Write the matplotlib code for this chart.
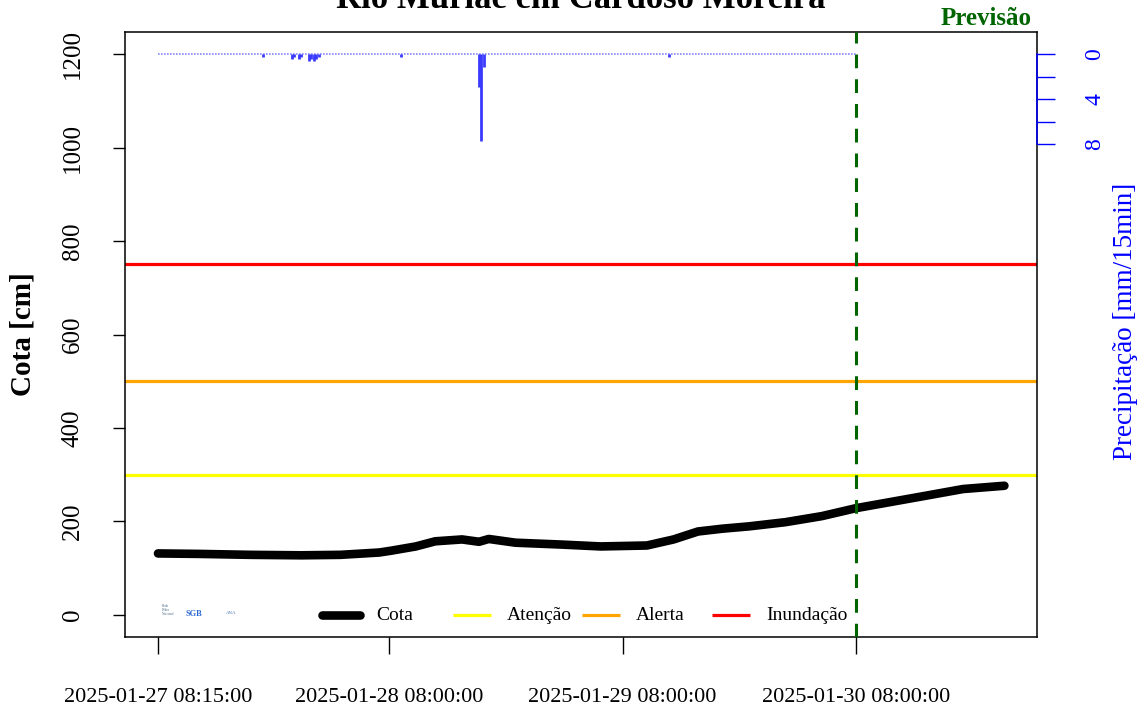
import matplotlib
matplotlib.use("Agg")
import matplotlib.pyplot as plt
import matplotlib.dates as mdates
import pandas as pd
import numpy as np

plt.rcParams['font.family'] = ['Liberation Serif', 'DejaVu Serif']

# ---------------- data ----------------
title = "Rio Muriaé em Cardoso Moreira"

cota_times = ["2025-01-27 08:15", "2025-01-27 12:30", "2025-01-27 17:45", "2025-01-27 23:00",
              "2025-01-28 03:00", "2025-01-28 07:00", "2025-01-28 08:15", "2025-01-28 10:45",
              "2025-01-28 12:45", "2025-01-28 15:30", "2025-01-28 17:15", "2025-01-28 18:15",
              "2025-01-28 21:00", "2025-01-29 01:45", "2025-01-29 05:45", "2025-01-29 10:30",
              "2025-01-29 13:15", "2025-01-29 15:45", "2025-01-29 18:15", "2025-01-29 21:00",
              "2025-01-30 00:45", "2025-01-30 04:30", "2025-01-30 08:00", "2025-01-30 15:00",
              "2025-01-30 19:00", "2025-01-30 23:15"]
cota_values = [131, 130, 128, 127, 128, 133, 137, 146, 157, 161, 156, 162, 154, 150, 146, 148,
               161, 178, 184, 189, 198, 211, 228, 254, 269, 276]

# precipitation (mm/15min): observation window and the non-zero records
precip_start = "2025-01-27 08:15"
precip_end = "2025-01-30 08:00"
rain_times = ["2025-01-27 19:00", "2025-01-27 22:00", "2025-01-27 22:15", "2025-01-27 22:45",
              "2025-01-27 23:00", "2025-01-27 23:45", "2025-01-28 00:00", "2025-01-28 00:15",
              "2025-01-28 00:30", "2025-01-28 00:45", "2025-01-28 09:15", "2025-01-28 17:15",
              "2025-01-28 17:30", "2025-01-28 17:45", "2025-01-29 12:45"]
rain_values = [0.2, 0.4, 0.2, 0.4, 0.2, 0.6, 0.4, 0.6, 0.4, 0.2, 0.2, 2.9, 7.7, 1.1, 0.2]

legend_labels = ["Cota", "Atenção", "Alerta", "Inundação"]
threshold_names = ["Atenção", "Alerta", "Inundação"]
threshold_values = [300, 500, 750]
threshold_colors = ["#FFFF00", "#FFA500", "#FF0000"]
forecast_time = "2025-01-30 08:00"

x_tick_times = ["2025-01-27 08:15:00", "2025-01-28 08:00:00", "2025-01-29 08:00:00", "2025-01-30 08:00:00"]
y_ticks = [0, 200, 400, 600, 800, 1000, 1200]
p_ticks = [0, 2, 4, 6, 8]
p_ticklabels = ["0", "", "4", "", "8"]

# ---------------- figure ----------------
W, H = 1145, 711
fig = plt.figure(figsize=(W / 100, H / 100), dpi=100)
AX_L, AX_B, AX_W, AX_H = 125, 637, 912, 605
ax = fig.add_axes([AX_L / W, 1 - AX_B / H, AX_W / W, AX_H / H])

ct = pd.to_datetime(cota_times)
t0 = pd.Timestamp(precip_start)
tf = pd.Timestamp(forecast_time)

# thresholds
for val, col in zip(threshold_values, threshold_colors):
    ax.axhline(val, color=col, lw=2.3, zorder=2)

ax.plot(ct, cota_values, color="black", lw=6.2, solid_capstyle="round",
        solid_joinstyle="round", zorder=4)

ax.axvline(tf, color="#006400", lw=2.2, dashes=(4.5, 3.6), zorder=5)

ax.set_ylim(-48, 1248)
ax.set_xlim(t0 - pd.Timedelta(hours=3.39), tf + pd.Timedelta(hours=18.6))

ax.set_yticks(y_ticks)
ax.set_yticklabels([str(v) for v in y_ticks], rotation=90, va="center", fontsize=18)
ax.set_xticks(pd.to_datetime(x_tick_times))
ax.set_xticklabels(x_tick_times, fontsize=16)
ax.tick_params(axis="y", length=8.6, width=1.0, pad=21)
ax.tick_params(axis="x", length=12, width=1.0, pad=25)
for s in ax.spines.values():
    s.set_linewidth(1.1)

ax.text(-0.112, 0.5, "Cota [cm]", transform=ax.transAxes, rotation=90, fontsize=21,
        fontweight="bold", ha="center", va="center")

# precipitation axis
ax2 = ax.twinx()
ax2.set_ylim(51.8, -1.985)
rng = pd.date_range(t0, pd.Timestamp(precip_end), freq="15min")
ax2.plot(rng, np.zeros(len(rng)), color="#8888FF", lw=1.2, ls=(0, (1, 0.8)), zorder=3)
ax2.vlines(pd.to_datetime(rain_times), 0, rain_values, color="#3a3aff", lw=2.0, zorder=3)
ax2.set_yticks(p_ticks)
ax2.set_yticklabels(p_ticklabels, rotation=90, va="center", fontsize=17, color="blue")
ax2.tick_params(axis="y", length=13, width=1.0, colors="blue", pad=21)
ax2.spines["right"].set_bounds(0, 8)
ax2.spines["right"].set_color("blue")
ax2.spines["right"].set_linewidth(1.1)
for k in ["top", "left", "bottom"]:
    ax2.spines[k].set_visible(False)
ax2.set_xlim(ax.get_xlim())

fig.text(1125 / W, 1 - 321 / H, "Precipitação [mm/15min]", rotation=90, color="blue",
         fontsize=19.5, ha="center", va="center")

# title and forecast label
fig.text(581 / W, 1 - 8 / H, title, fontsize=25, fontweight="bold", ha="center", va="baseline")
fig.text(986 / W, 1 - 25 / H, "Previsão", fontsize=18, fontweight="bold", color="#006400",
         ha="center", va="baseline")

# legend (horizontal, R-style item placement)
leg_colors = ["black"] + threshold_colors
leg_widths = [6.2, 2.3, 2.3, 2.3]
leg_starts = [322, 453, 582, 712]   # pixel position of each key
leg_y = (AX_B - 615) / AX_H
for lab, col, lw, xs in zip(legend_labels, leg_colors, leg_widths, leg_starts):
    x0 = (xs - AX_L) / AX_W
    x1 = (xs + 38 - AX_L) / AX_W
    ax.plot([x0, x1], [leg_y, leg_y], transform=ax.transAxes, color=col, lw=lw,
            solid_capstyle="round" if lab == "Cota" else "butt", zorder=6, clip_on=False)
    ax.text((xs + 54 - AX_L) / AX_W, leg_y, lab, transform=ax.transAxes, fontsize=14,
            ha="left", va="center", zorder=6)

# logo stand-in
ax.text(0.041, 0.045, "Rede\nHidro\nNacional", transform=ax.transAxes,
        fontsize=2.5, color="#4a6a8a", ha="left", va="center", linespacing=1.0)
ax.text(0.066, 0.038, "SGB", transform=ax.transAxes, fontsize=6, color="#2a6ad0",
        fontweight="bold", ha="left", va="center")
ax.text(0.111, 0.040, "ANA", transform=ax.transAxes, fontsize=3.5, color="#4a7ab0",
        ha="left", va="center")

fig.savefig("out.png", dpi=100)
